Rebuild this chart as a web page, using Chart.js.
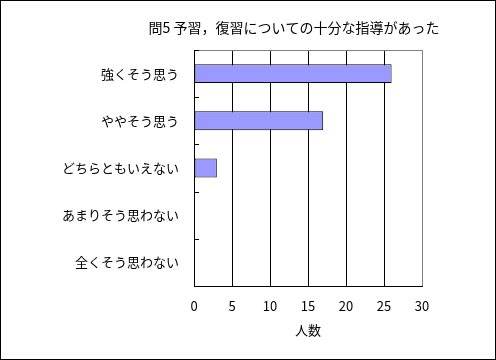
<!DOCTYPE html>
<html>
<head>
<meta charset="utf-8">
<script src="https://cdn.jsdelivr.net/npm/chart.js@4"></script>
<style>
html,body{margin:0;padding:0;background:#fff;}
#wrap{width:496px;height:360px;box-sizing:border-box;border:1px solid #000;position:relative;}
canvas{display:block;}
</style>
</head>
<body>
<div id="wrap"><canvas id="c" width="494" height="358"></canvas></div>
<script>
const chartTitle = "問5 予習，復習についての十分な指導があった";
const categories = ["強くそう思う", "ややそう思う", "どちらともいえない", "あまりそう思わない", "全くそう思わない"];
const counts = [26, 17, 3, 0, 0];
const xTicks = [0, 5, 10, 15, 20, 25, 30];
const xAxisTitle = "人数";

const FONT = '"Noto Sans CJK JP", sans-serif';

const framePlugin = {
  id: 'frame',
  afterDraw(chart) {
    const {ctx, chartArea: a, scales: {y}} = chart;
    ctx.save();
    ctx.strokeStyle = '#808080';
    ctx.lineWidth = 1;
    ctx.beginPath();
    ctx.moveTo(a.left, a.top + 0.5);
    ctx.lineTo(a.right, a.top + 0.5);
    ctx.stroke();
    ctx.strokeStyle = '#000';
    const n = categories.length;
    const half = (y.getPixelForValue(1) - y.getPixelForValue(0)) / 2;
    for (let i = 0; i < n; i++) {
      const yy = Math.round(y.getPixelForValue(i) - half) + 0.5;
      ctx.beginPath();
      ctx.moveTo(a.left, yy);
      ctx.lineTo(a.left + 5, yy);
      ctx.stroke();
    }
    ctx.beginPath();
    ctx.moveTo(a.left + 0.5, a.top);
    ctx.lineTo(a.left + 0.5, a.bottom);
    ctx.stroke();
    ctx.fillStyle = '#000';
    ctx.font = '14px ' + FONT;
    ctx.textAlign = 'center';
    ctx.textBaseline = 'middle';
    ctx.fillText(chartTitle, 293, 27);
    ctx.restore();
  }
};

new Chart(document.getElementById('c'), {
  type: 'bar',
  data: {
    labels: categories,
    datasets: [{
      data: counts,
      backgroundColor: '#9999FF',
      borderColor: '#000',
      borderWidth: 1,
      borderSkipped: false,
      categoryPercentage: 0.4,
      barPercentage: 1.0
    }]
  },
  options: {
    indexAxis: 'y',
    responsive: false,
    animation: false,
    devicePixelRatio: 1,
    layout: { padding: { top: 49, right: 73, left: 0, bottom: 17 } },
    plugins: { legend: { display: false }, tooltip: { enabled: false }, title: { display: false } },
    scales: {
      x: {
        min: 0, max: 30,
        afterBuildTicks(s) { s.ticks = xTicks.map(v => ({value: v})); },
        afterFit(s) { s.height = 56; },
        grid: {
          color: c => (c.tick && c.tick.value === 30) ? '#808080' : '#000',
          lineWidth: 1,
          drawTicks: false
        },
        border: { color: '#000', width: 1 },
        ticks: { color: '#000', font: { size: 13, family: FONT }, padding: 12, maxRotation: 0 },
        title: { display: true, text: xAxisTitle, color: '#000', font: { size: 13, family: FONT }, padding: { top: 4, bottom: 4 } }
      },
      y: {
        afterFit(s) { s.width = 193; },
        grid: { display: false, drawOnChartArea: false, drawTicks: false },
        border: { display: false },
        ticks: { color: '#000', font: { size: 13, family: FONT }, padding: 15 }
      }
    }
  },
  plugins: [framePlugin]
});
</script>
</body>
</html>
